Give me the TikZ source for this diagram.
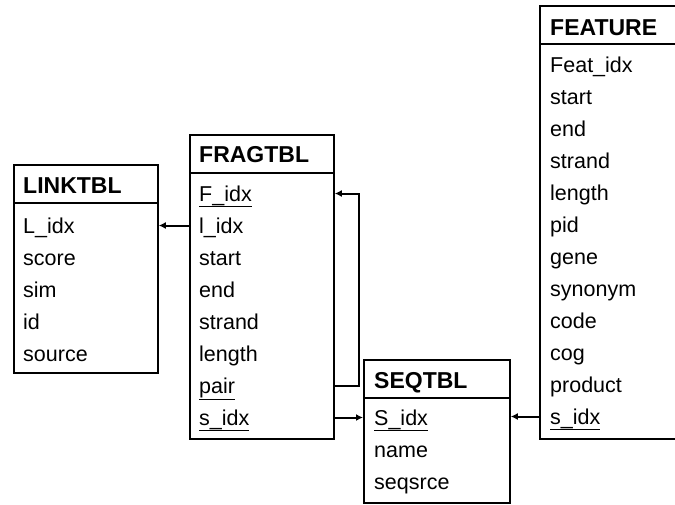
\documentclass[tikz,border=0pt]{standalone}
\usepackage{fontspec}
\setmainfont{Liberation Sans}
\usetikzlibrary{calc, arrows.meta}

\begin{document}
\begin{tikzpicture}[x=1pt, y=-1pt,
		table/.style = {draw, line width = 1.8pt, anchor = north west, inner sep = 0pt},
		title/.style = {anchor = base west, inner sep = 0pt, font = \fontsize{23}{23}\selectfont\bfseries},
		field/.style = {anchor = base west, inner sep = 0pt, text height = 15pt, text depth = 0pt, font = \fontsize{21.5}{22}\selectfont},
		key arrow/.style = {draw, line width = 2pt, -{Latex[length = 7pt, width = 7pt]}}]
		\clip (0,0) rectangle (675,504);
		
		\def\head{39};
		\def\row{32};
		
		%tables
		\node [table, minimum width = 144pt, minimum height = 208pt] (linktbl) at (13,164) {};
		\node [table, minimum width = 144pt, minimum height = 304pt] (fragtbl) at (189,134) {};
		\node [table, minimum width = 146pt, minimum height = 143pt] (seqtbl) at (363,359) {};
		\node [table, minimum width = 160pt, minimum height = 433pt] (featuretbl) at (539,5) {};
		
		\foreach \t in {linktbl, fragtbl, seqtbl, featuretbl}
			\draw [line width = 1.8pt] ($ (\t.north west) + (0,\head) $) -- ($ (\t.north east) + (0,\head) $);
		
		%titles
		\node [title] (linktitle) at (23,193) {LINKTBL};
		\node [title] (fragtitle) at (199,162) {FRAGTBL};
		\node [title] (seqtitle) at (374,388) {SEQTBL};
		\node [title] (featuretitle) at (550,35) {FEATURE};
		
		%fields
		\foreach \name [count = \i] in {L\_idx, score, sim, id, source}
			\node [field] (link-\i) at (23, {233 + \row*(\i-1)}) {\name};
		
		\foreach \name [count = \i] in {\underline{F\_idx}, l\_idx, start, end, strand, length, \underline{pair}, \underline{s\_idx}}
			\node [field] (frag-\i) at (199, {201 + \row*(\i-1)}) {\name};
		
		\foreach \name [count = \i] in {\underline{S\_idx}, name, seqsrce}
			\node [field] (seq-\i) at (374, {425 + \row*(\i-1)}) {\name};
		
		\foreach \name [count = \i] in {Feat\_idx, start, end, strand, length, pid, gene, synonym, code, cog, product, \underline{s\_idx}}
			\node [field] (feature-\i) at (550, {72 + \row*(\i-1)}) {\name};
		
		%keys
		\draw [key arrow] (frag-2.west -| fragtbl.west) -- (frag-2.west -| linktbl.east);
		\draw [key arrow] (frag-7.west -| fragtbl.east) -- ++(24,0) |- (frag-1.west -| fragtbl.east);
		\draw [key arrow] (frag-8.west -| fragtbl.east) -- (frag-8.west -| seqtbl.west);
		\draw [key arrow] (feature-12.west -| featuretbl.west) -- (feature-12.west -| seqtbl.east);
	\end{tikzpicture}
\end{document}
